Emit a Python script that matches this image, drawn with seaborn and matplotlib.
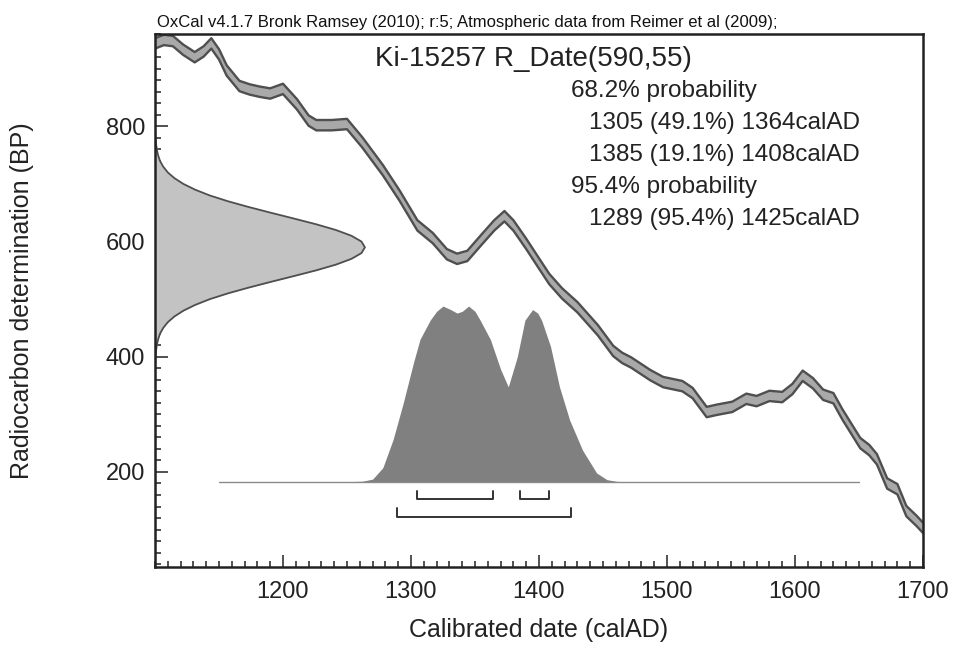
import numpy as np
import pandas as pd
import matplotlib
matplotlib.use("Agg")
import matplotlib.pyplot as plt
import seaborn as sns
from matplotlib.ticker import MultipleLocator

# Calibration curve: calendar year AD -> radiocarbon age BP
curve_years = [1100, 1107, 1114, 1122, 1131, 1138, 1144, 1150, 1156, 1166, 1174, 1182,
               1190, 1200, 1211, 1220, 1226, 1238, 1250, 1262, 1278, 1291, 1305, 1317,
               1328, 1336, 1344, 1355, 1365, 1373, 1380, 1390, 1400, 1408, 1418, 1430,
               1446, 1458, 1465, 1472, 1487, 1497, 1512, 1520, 1531, 1539, 1551, 1562,
               1570, 1580, 1590, 1598, 1606, 1614, 1622, 1630, 1637, 1651, 1658, 1664,
               1672, 1680, 1687, 1695, 1700]
curve_bp = [944, 950, 948, 933, 920, 930, 944, 925, 897, 870, 864, 860,
            857, 865, 838, 810, 802, 802, 804, 772, 724, 680, 628, 606,
            578, 570, 575, 603, 628, 644, 628, 596, 562, 535, 510, 486,
            446, 410, 398, 390, 368, 356, 349, 337, 304, 308, 313, 327,
            323, 332, 330, 344, 367, 354, 334, 328, 300, 250, 238, 222,
            180, 170, 132, 115, 103]
curve_err = 9

# R_Date(590,55) drawn against the y axis: BP level -> width in calendar years
rdate_bp = [370, 380, 390, 400, 410, 420, 430, 440, 450, 460, 470, 480, 490, 500,
            510, 520, 530, 540, 550, 560, 570, 580, 590, 600, 610, 620, 630, 640,
            650, 660, 670, 680, 690, 700, 710, 720, 730, 740, 750, 760, 770, 780,
            790, 800, 810]
rdate_width = [0, 0.1, 0.2, 0.4, 0.8, 1.4, 2.4, 3.9, 6.4, 10.0, 15.2, 22.2, 31.4, 42.8,
               56.9, 73.1, 90.5, 108.4, 125.9, 141.4, 153.5, 161.3, 164, 161.3, 153.5,
               141.4, 125.9, 108.4, 90.5, 73.1, 56.9, 42.8, 31.4, 22.2, 15.2, 10.0,
               6.4, 3.9, 2.4, 1.4, 0.8, 0.4, 0.2, 0.1, 0]

# calibrated probability (relative height)
cal_years = [1150, 1250, 1262, 1270, 1278, 1286, 1294, 1302, 1307, 1315, 1320, 1325,
             1331, 1336, 1340, 1345, 1350, 1354, 1362, 1370, 1376, 1383, 1389, 1395,
             1399, 1402, 1409, 1416, 1424, 1434, 1445, 1453, 1461, 1470, 1650]
cal_prob = [0, 0, 0.003, 0.015, 0.08, 0.24, 0.45, 0.68, 0.81, 0.92, 0.97, 1.0,
            0.98, 0.96, 0.97, 1.0, 0.97, 0.92, 0.81, 0.64, 0.54, 0.71, 0.92, 0.98,
            0.96, 0.92, 0.77, 0.54, 0.35, 0.18, 0.05, 0.012, 0.002, 0, 0]

ranges_68 = [(1305, 1364), (1385, 1408)]
ranges_95 = [(1289, 1425)]

header = "OxCal v4.1.7 Bronk Ramsey (2010); r:5; Atmospheric data from Reimer et al (2009);"
sample_label = "Ki-15257 R_Date(590,55)"
summary_lines = ["68.2% probability",
                 "1305 (49.1%) 1364calAD",
                 "1385 (19.1%) 1408calAD",
                 "95.4% probability",
                 "1289 (95.4%) 1425calAD"]

sns.set_theme(style="white")
plt.rcParams['font.family'] = ['Liberation Sans', 'DejaVu Sans']

fig = plt.figure(figsize=(9.54, 6.45), dpi=100)
ax = fig.add_axes([155 / 954, 1 - 567 / 645, 768 / 954, 533.4 / 645])
x0, x1 = 1100, 1700
ax.set_xlim(x0, x1)
ax.set_ylim(35, 961)

# calibration curve band
curve = pd.DataFrame({"year": curve_years, "bp": curve_bp})
curve["lo"] = curve["bp"] - curve_err
curve["hi"] = curve["bp"] + curve_err
ax.fill_between(curve["year"], curve["lo"], curve["hi"], color="#a9a9a9", lw=0)
for col in ["lo", "hi"]:
    sns.lineplot(data=curve, x="year", y=col, color="#4f4f4f", lw=1.7, ax=ax,
                 solid_joinstyle="round")

# radiocarbon date on the y axis
rdate = pd.DataFrame({"bp": rdate_bp, "x": [x0 + w for w in rdate_width]})
ax.fill_betweenx(rdate["bp"], x0, rdate["x"], color="#c3c3c3", lw=0)
sns.lineplot(data=rdate, x="x", y="bp", sort=False, estimator=None,
             color="#4f4f4f", lw=1.3, ax=ax)

# calibrated distribution
base, height = 183, 305
cal = pd.DataFrame({"year": cal_years, "p": cal_prob})
cal["y"] = base + cal["p"] * height
ax.fill_between(cal["year"], base, cal["y"], color="#808080", lw=0)
ax.plot([cal_years[0], cal_years[-1]], [base, base], color="#8a8a8a", lw=1)

# range brackets
def bracket(ranges, y_line, y_top):
    for a, b in ranges:
        ax.plot([a, a, b, b], [y_top, y_line, y_line, y_top], color="#333333", lw=1.4)

bracket(ranges_68, 153, 167)
bracket(ranges_95, 122, 137)

# text
txt = "#222222"
ax.text(1271.5, 904, sample_label, fontsize=20, color=txt, va="baseline")
line_y = [851, 796, 740, 684, 629]
for s, y in zip(summary_lines, line_y):
    xs = 1425 if "probability" in s else 1438.7
    ax.text(xs, y, s, fontsize=17.5, color=txt, va="baseline")
fig.text(157 / 954, 1 - 27 / 645, header, fontsize=12, color="#111111", va="baseline")

# axes styling
ax.xaxis.set_major_locator(MultipleLocator(100))
ax.xaxis.set_minor_locator(MultipleLocator(10))
ax.yaxis.set_major_locator(MultipleLocator(200))
ax.yaxis.set_minor_locator(MultipleLocator(20))
ax.tick_params(which="both", direction="in", bottom=True, left=True, top=False, right=False,
               color="#222222", width=1.1)
ax.tick_params(which="major", length=9, labelsize=17, labelcolor=txt, pad=7)
ax.tick_params(which="minor", length=4.5)
ax.tick_params(axis="x", which="major", pad=10)
xt = [t for t in ax.get_xticks() if x0 < t <= x1]
ax.set_xticks(xt)
for sp in ax.spines.values():
    sp.set_color("#222222")
    sp.set_linewidth(1.8)

ax.set_xlabel("Calibrated date (calAD)", fontsize=18, color=txt)
ax.set_ylabel("Radiocarbon determination (BP)", fontsize=18, color=txt)
ax.xaxis.set_label_coords(0.5, -0.095)
ax.yaxis.set_label_coords(-0.158, 0.5)

fig.savefig("out.png", dpi=100)
